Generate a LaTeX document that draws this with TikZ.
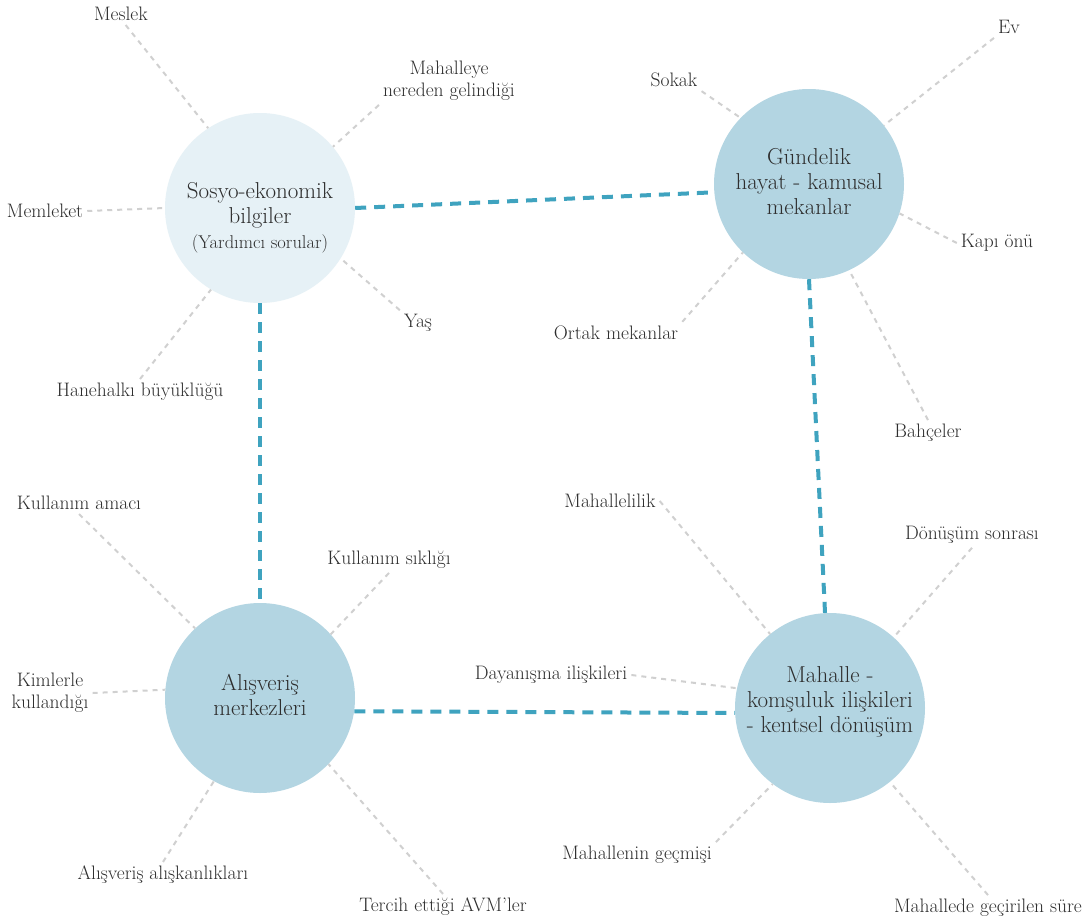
\documentclass[tikz,border=0pt]{standalone}
\usepackage{tikz}
\definecolor{hubblue}{HTML}{B3D5E2}
\definecolor{hubpale}{HTML}{E6F1F6}
\definecolor{linkblue}{HTML}{3FA3BF}
\definecolor{spokegray}{HTML}{D0D0D0}
\definecolor{inkgray}{HTML}{2E2E2E}
\tikzset{
  hub/.style={circle,fill=hubblue,minimum size=190pt,inner sep=0pt},
  hubtext/.style={align=center,text=inkgray,font=\fontsize{23}{25}\selectfont},
  lbl/.style={align=center,text=inkgray,font=\fontsize{19.5}{22}\selectfont,inner sep=4pt},
  bluelink/.style={color=linkblue,line width=4pt,dash pattern=on 11pt off 8pt},
  spoke/.style={color=spokegray,line width=2pt,dash pattern=on 5pt off 5pt}
}

\begin{document}
\begin{tikzpicture}[x=1pt,y=-1pt]
  \fill[white] (0,0) rectangle (1087,921) ;
  \useasboundingbox (0,0) rectangle (1087,921) ;
  % themes
  \node[hub,fill=hubpale] (S) at (260,208) {} ;
  \node[hub] (G) at (809,184) {} ;
  \node[hub] (A) at (260,698) {} ;
  \node[hub] (M) at (830,708) {} ;
  \node[hubtext] (Stext) at (260,218) {Sosyo-ekonomik\\bilgiler\\{\fontsize{18.5}{22}\selectfont (Yardımcı sorular)}} ;
  \node[hubtext] (Gtext) at (809,182) {Gündelik\\hayat - kamusal\\mekanlar} ;
  \node[hubtext] (Atext) at (260,695) {Alışveriş\\merkezleri} ;
  \node[hubtext] (Mtext) at (830,702) {Mahalle -\\komşuluk ilişkileri\\- kentsel dönüşüm} ;
  % links between themes
  \draw[bluelink] (S.0) -- (G.185) ;
  \draw[bluelink] (S.-90) -- (A.90) ;
  \draw[bluelink] (G.-90) -- (M.93.5) ;
  \draw[bluelink] (A.-8.7) -- (M.183) ;
  % Sosyo-ekonomik bilgiler
  \node[lbl] (meslek) at (121,14) {Meslek} ;
  \node[lbl] (mahalleye) at (449,81) {Mahalleye\\nereden gelindiği} ;
  \node[lbl] (memleket) at (45,211) {Memleket} ;
  \node[lbl] (yas) at (418,323) {Yaş} ;
  \node[lbl] (hanehalki) at (140,392) {Hanehalkı büyüklüğü} ;
  \draw[spoke] (meslek.-67) -- (S.123.5) ;
  \draw[spoke] (mahalleye.south west) -- (S.40) ;
  \draw[spoke] (memleket.east) -- (S.180) ;
  \draw[spoke] (yas.north west) -- (S.-32) ;
  \draw[spoke] (hanehalki.north) -- (S.-121) ;
  % Gundelik hayat
  \node[lbl] (sokak) at (674,80) {Sokak} ;
  \node[lbl] (ev) at (1009,27) {Ev} ;
  \node[lbl] (kapi) at (997,243) {Kapı önü} ;
  \node[lbl] (ortak) at (616,333) {Ortak mekanlar} ;
  \node[lbl] (bahce) at (928,433) {Bahçeler} ;
  \draw[spoke] (sokak.south east) -- (G.136) ;
  \draw[spoke] (ev.south west) -- (G.38.5) ;
  \draw[spoke] (kapi.west) -- (G.-18.8) ;
  \draw[spoke] (ortak.north east) -- (G.-134) ;
  \draw[spoke] (bahce.north) -- (G.-65.7) ;
  % Alisveris merkezleri
  \node[lbl] (amac) at (79,503) {Kullanım amacı} ;
  \node[lbl] (kimlerle) at (50,693) {Kimlerle\\kullandığı} ;
  \node[lbl] (siklik) at (389,560) {Kullanım sıklığı} ;
  \node[lbl] (aliskanlik) at (163,875) {Alışveriş alışkanlıkları} ;
  \node[lbl] (tercih) at (443,907) {Tercih ettiği AVM’ler} ;
  \draw[spoke] (amac.south) -- (A.133.7) ;
  \draw[spoke] (kimlerle.east) -- (A.175.8) ;
  \draw[spoke] (siklik.south) -- (A.42.6) ;
  \draw[spoke] (aliskanlik.north) -- (A.-119) ;
  \draw[spoke] (tercih.north) -- (A.-44.6) ;
  % Mahalle - komsuluk
  \node[lbl] (mahallelilik) at (610,501) {Mahallelilik} ;
  \node[lbl] (donusum) at (972,535) {Dönüşüm sonrası} ;
  \node[lbl] (dayanisma) at (551,675) {Dayanışma ilişkileri} ;
  \node[lbl] (gecmis) at (637,855) {Mahallenin geçmişi} ;
  \node[lbl] (sure) at (988,908) {Mahallede geçirilen süre} ;
  \draw[spoke] (mahallelilik.east) -- (M.129.7) ;
  \draw[spoke] (donusum.south) -- (M.48.2) ;
  \draw[spoke] (dayanisma.east) -- (M.168.7) ;
  \draw[spoke] (gecmis.north east) -- (M.-127.7) ;
  \draw[spoke] (sure.north) -- (M.-51) ;
\end{tikzpicture}
\end{document}
